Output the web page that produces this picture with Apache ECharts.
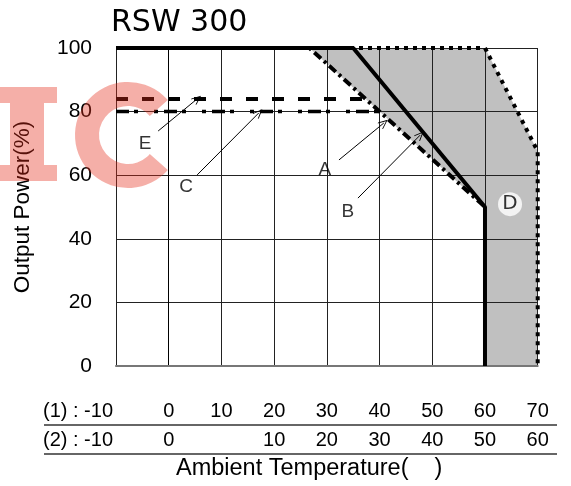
<!DOCTYPE html>
<html>
<head>
<meta charset="utf-8">
<script src="https://cdn.jsdelivr.net/npm/echarts@6/dist/echarts.min.js"></script>
<style>
html,body{margin:0;padding:0;background:#fff}
#wrap{position:relative;width:571px;height:486px}
#c,#wm{position:absolute;left:0;top:0;width:571px;height:486px}
#wm{pointer-events:none;z-index:10}
</style>
</head>
<body>
<div id="wrap"><div id="c"></div><div id="wm"></div></div>
<script>
// ---- data ----
const xTicksRow1 = ['(1) : -10', '0', '10', '20', '30', '40', '50', '60', '70'];
const xTicksRow2 = ['(2) : -10', '0', '', '10', '20', '30', '40', '50', '60'];
const curveSolid = [[-10, 100], [35, 100], [60, 50], [60, 0]];
const curveDashDot = [[-10, 100], [26.7, 100], [60, 50]];
const curveC = [[-10, 80], [40, 80]];
const curveE = [[-10, 84], [37.3, 84]];
const curveDotted = [[-10, 100], [60, 100], [70, 67.5], [70, 0]];
const regionD = [[26.7, 100], [60, 100], [70, 67.5], [70, 0], [60, 0], [60, 50]];
const labelNames = ['E', 'C', 'A', 'B'];
const labelAt = [[-4.5, 70], [3.3, 56.3], [29.6, 61.6], [34, 48.4]];
const arrowFrom = [[-2, 73.9], [5.4, 60.1], [32.3, 64.8], [35.9, 52.8]];
const arrowTo = [[5.4, 84], [17.1, 79.6], [40.8, 76.4], [47.7, 72.6]];
const markD = [[64.75, 50.9, 'D']];

const FONT = 'Liberation Sans';
const WM = 'rgba(230,45,25,0.38)';
const arrowPath = 'path://M0,0 L10,12 L8.6,13.2 L0,2.8 L-8.6,13.2 L-10,12 Z';

const chart = echarts.init(document.getElementById('c'), null, {renderer: 'canvas'});

const option = {
  animation: false,
  backgroundColor: '#fff',
  title: {
    text: 'RSW 300', left: 106, top: 3,
    textStyle: {fontFamily: 'DejaVu Sans', fontSize: 30, fontWeight: 'normal', color: '#000'}
  },
  grid: {left: 116, right: 33.3, top: 48, bottom: 120, show: false},
  xAxis: [{
    type: 'value', min: -10, max: 70, interval: 10, z: 2,
    axisLine: {show: true, lineStyle: {color: '#777', width: 2}},
    axisTick: {show: false},
    splitLine: {show: true, lineStyle: {color: '#222', width: 1}},
    axisLabel: {
      margin: 35, fontSize: 20, fontFamily: FONT, color: '#000',
      formatter: v => {
        const i = Math.round((v + 10) / 10);
        return i === 0 ? '{f|' + xTicksRow1[i] + '}' : xTicksRow1[i];
      },
      rich: {f: {fontSize: 20, fontFamily: FONT, color: '#000', padding: [0, 76, 0, 0]}}
    }
  }, {
    type: 'value', min: -10, max: 70, interval: 10, position: 'bottom',
    axisLine: {show: false}, axisTick: {show: false}, splitLine: {show: false},
    axisLabel: {
      margin: 64, fontSize: 20, fontFamily: FONT, color: '#000',
      formatter: v => {
        const i = Math.round((v + 10) / 10);
        return i === 0 ? '{f|' + xTicksRow2[i] + '}' : xTicksRow2[i];
      },
      rich: {f: {fontSize: 20, fontFamily: FONT, color: '#000', padding: [0, 76, 0, 0]}}
    }
  }],
  yAxis: {
    type: 'value', min: 0, max: 100, interval: 20, z: 2,
    name: 'Output Power(%)', nameLocation: 'middle', nameRotate: 90, nameGap: 82,
    nameTextStyle: {fontSize: 22.5, fontFamily: FONT, color: '#000'},
    axisLine: {show: true, lineStyle: {color: '#000', width: 1}},
    axisTick: {show: false},
    splitLine: {show: true, lineStyle: {color: '#222', width: 1}},
    axisLabel: {margin: 24, fontSize: 21, fontFamily: FONT, color: '#000'}
  },
  series: [
    {
      type: 'custom', name: 'D region', z: 1, silent: true,
      data: regionD,
      renderItem: (params, api) => {
        if (params.dataIndex !== 0) return null;
        const pts = regionD.map(p => api.coord(p));
        return {type: 'polygon', shape: {points: pts}, style: {fill: '#c0c0c0'}};
      }
    },
    {
      type: 'line', name: 'D', data: curveDotted, z: 3, symbol: 'none', silent: true,
      lineStyle: {color: '#000', width: 4, type: [4, 5], cap: 'butt'}
    },
    {
      type: 'line', name: 'C', data: curveC, z: 4, symbol: 'none', silent: true,
      lineStyle: {color: '#000', width: 3.5, type: [13, 5, 4, 16, 4, 6], cap: 'butt'}
    },
    {
      type: 'line', name: 'E', data: curveE, z: 4, symbol: 'none', silent: true,
      lineStyle: {color: '#000', width: 4, type: [12, 14], cap: 'butt'}
    },
    {
      type: 'line', name: 'B', data: curveDashDot, z: 5, symbol: 'none', silent: true,
      lineStyle: {color: '#000', width: 4, type: [9, 4, 3, 4], cap: 'butt'}
    },
    {
      type: 'line', name: 'A', data: curveSolid, z: 6, symbol: 'none', silent: true,
      lineStyle: {color: '#000', width: 4, type: 'solid'}
    },
    {
      type: 'line', name: 'arrows', data: [], z: 7, silent: true,
      markLine: {
        silent: true, animation: false,
        symbol: ['none', arrowPath], symbolSize: [8, 10],
        label: {show: false},
        lineStyle: {color: '#000', width: 1, type: 'solid'},
        data: arrowFrom.map((f, i) => [{coord: f}, {coord: arrowTo[i]}])
      }
    },
    {
      type: 'scatter', name: 'labels', z: 8, silent: true,
      data: labelAt.map((p, i) => [p[0], p[1], labelNames[i]]),
      symbolSize: 1, itemStyle: {color: 'rgba(0,0,0,0)'},
      label: {show: true, position: 'inside', formatter: p => p.value[2],
        fontSize: 19, fontFamily: FONT, color: '#000'}
    },
    {
      type: 'scatter', name: 'Dmark', z: 8, silent: true,
      data: markD, symbol: 'circle', symbolSize: 24, itemStyle: {color: '#fff'},
      label: {show: true, position: 'inside', formatter: p => p.value[2],
        fontSize: 20, fontFamily: 'DejaVu Sans', color: '#000'}
    }
  ],
  graphic: [
    {type: 'line', silent: true, shape: {x1: 44, y1: 425, x2: 557, y2: 425}, style: {stroke: '#333', lineWidth: 1.5}},
    {type: 'line', silent: true, shape: {x1: 44, y1: 454, x2: 557, y2: 454}, style: {stroke: '#333', lineWidth: 1.5}},
    {type: 'text', silent: true, left: 176, top: 457,
      style: {text: 'Ambient Temperature(    )', fontSize: 23.5, fontFamily: FONT, fill: '#000'}}
  ]
};
chart.setOption(option);

// watermark overlay (decorative), drawn by a second ECharts instance on top
const wm = echarts.init(document.getElementById('wm'), null, {renderer: 'canvas'});
wm.setOption({
  animation: false,
  graphic: [
    {type: 'rect', silent: true, shape: {x: -5, y: 87, width: 62, height: 16}, style: {fill: WM}},
    {type: 'rect', silent: true, shape: {x: 10, y: 103, width: 34, height: 62}, style: {fill: WM}},
    {type: 'rect', silent: true, shape: {x: -5, y: 165, width: 62, height: 16}, style: {fill: WM}},
    {type: 'sector', silent: true,
      shape: {cx: 128, cy: 135, r0: 29, r: 53, startAngle: 0.72, endAngle: Math.PI * 2 - 0.72, clockwise: true},
      style: {fill: WM}}
  ]
});
</script>
</body>
</html>
